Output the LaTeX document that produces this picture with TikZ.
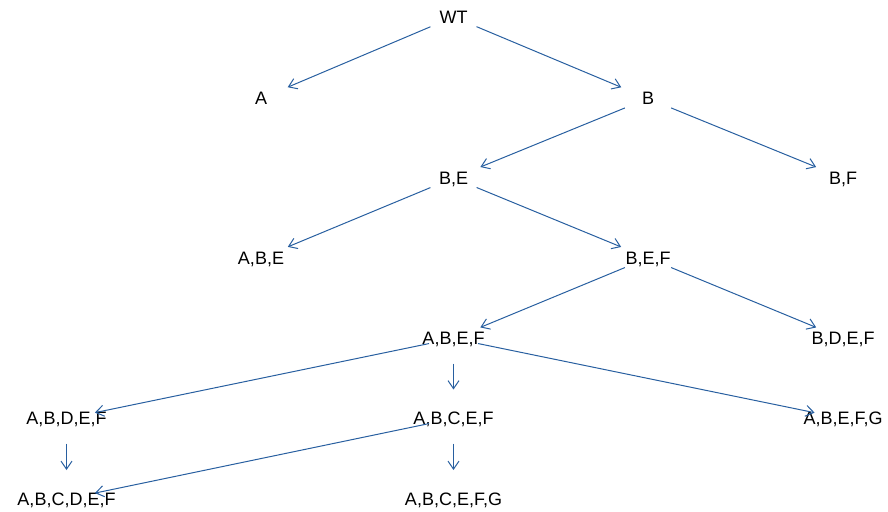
\documentclass[tikz,border=0pt]{standalone}
\usepackage{fontspec}
\setmainfont{Liberation Sans}
\usetikzlibrary{arrows.meta}
\definecolor{edgeblue}{RGB}{40,95,160}
\tikzset{
  vlabel/.style={inner sep=0pt, text height=12.9pt, text depth=0pt, font=\fontsize{18}{20}\selectfont, anchor=center},
  edge/.style={draw=edgeblue, line width=1pt, shorten <=25pt, shorten >=29pt,
    -{Straight Barb[length=8pt,width=11pt,line width=1pt]}}
}
\begin{document}
\begin{tikzpicture}[x=1pt,y=-1pt]
\useasboundingbox (0,0) rectangle (888,511);
\node[vlabel] (wt) at (453.5,17) {WT};
\node[vlabel] (a) at (261,98.5) {A};
\node[vlabel] (b) at (648,98.5) {B};
\node[vlabel] (be) at (453.5,178) {B,E};
\node[vlabel] (bf) at (843,178) {B,F};
\node[vlabel] (abe) at (261,258) {A,B,E};
\node[vlabel] (bef) at (648,258) {B,E,F};
\node[vlabel] (abef) at (453.5,338.5) {A,B,E,F};
\node[vlabel] (bdef) at (843,338.5) {B,D,E,F};
\node[vlabel] (abdef) at (66.5,418.5) {A,B,D,E,F};
\node[vlabel] (abcef) at (453.5,418.5) {A,B,C,E,F};
\node[vlabel] (abefg) at (843,418.5) {A,B,E,F,G};
\node[vlabel] (abcdef) at (66.5,499) {A,B,C,D,E,F};
\node[vlabel] (abcefg) at (453.5,499) {A,B,C,E,F,G};
\draw[edge] (wt.center) -- (a.center);
\draw[edge] (wt.center) -- (b.center);
\draw[edge] (b.center) -- (be.center);
\draw[edge] (b.center) -- (bf.center);
\draw[edge] (be.center) -- (abe.center);
\draw[edge] (be.center) -- (bef.center);
\draw[edge] (bef.center) -- (abef.center);
\draw[edge] (bef.center) -- (bdef.center);
\draw[edge] (abef.center) -- (abdef.center);
\draw[edge] (abef.center) -- (abcef.center);
\draw[edge] (abef.center) -- (abefg.center);
\draw[edge] (abdef.center) -- (abcdef.center);
\draw[edge] (abcef.center) -- (abcdef.center);
\draw[edge] (abcef.center) -- (abcefg.center);
\end{tikzpicture}
\end{document}
